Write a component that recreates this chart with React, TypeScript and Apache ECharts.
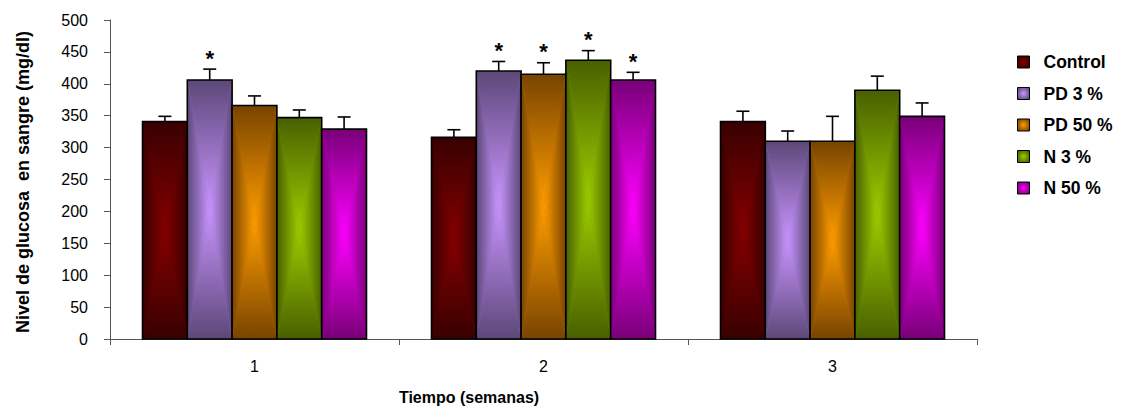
import React, { useEffect, useRef } from "react";
import * as echarts from "echarts";

// Weeks on the x axis
const categories = ["1", "2", "3"];

// Mean blood glucose (mg/dl) per group and week, with upper error (SE)
const control = [341, 316, 341];
const controlErr = [8, 12, 16];
const pd3 = [406, 420, 310];
const pd3Err = [17, 15, 16];
const pd50 = [366, 415, 310];
const pd50Err = [15, 18, 39];
const n3 = [347, 437, 390];
const n3Err = [12, 15, 22];
const n50 = [329, 406, 349];
const n50Err = [19, 12, 21];

// 1 = significant difference (marked with an asterisk)
const controlSig = [0, 0, 0];
const pd3Sig = [1, 1, 0];
const pd50Sig = [0, 1, 0];
const n3Sig = [0, 1, 0];
const n50Sig = [0, 1, 0];

const yTicks = { min: 0, max: 500, interval: 50 };

const groups = [
  { name: "Control", values: control, errors: controlErr, sig: controlSig },
  { name: "PD 3 %", values: pd3, errors: pd3Err, sig: pd3Sig },
  { name: "PD 50 %", values: pd50, errors: pd50Err, sig: pd50Sig },
  { name: "N 3 %", values: n3, errors: n3Err, sig: n3Sig },
  { name: "N 50 %", values: n50, errors: n50Err, sig: n50Sig },
];

// Edge (dark) and centre (light) colours of the "from centre" fill
const palette = [
  { dark: "#380000", light: "#850000" },
  { dark: "#5c4878", light: "#c994ff" },
  { dark: "#784400", light: "#ff9c00" },
  { dark: "#486000", light: "#9ccc00" },
  { dark: "#780078", light: "#ff00ff" },
];

const FONT = "Liberation Sans";
const CATEGORY_GAP = 0.225;

function mix(a: string, b: string) {
  const pa = [1, 3, 5].map((i) => parseInt(a.slice(i, i + 2), 16));
  const pb = [1, 3, 5].map((i) => parseInt(b.slice(i, i + 2), 16));
  return (
    "#" +
    pa
      .map((v, i) => Math.round((v + pb[i]) / 2).toString(16).padStart(2, "0"))
      .join("")
  );
}

function renderBar(params: any, api: any) {
  const idx = params.seriesIndex;
  const n = groups.length;
  const cat = api.value(0);
  const v = api.value(1);
  const e = api.value(2);
  const sig = api.value(3);
  const base = api.coord([cat, 0]);
  const top = api.coord([cat, v]);
  const errTop = api.coord([cat, v + e]);
  const band = api.size([1, 0])[0];
  const inner = band * (1 - CATEGORY_GAP);
  const bw = inner / n;
  const x0 = base[0] - inner / 2 + idx * bw;
  const x1 = x0 + bw;
  const yb = base[1];
  const yt = top[1];
  const cx = (x0 + x1) / 2;
  const cy = (yt + yb) / 2;
  const { dark, light } = palette[idx];
  const grad = (x: number, y: number, x2: number, y2: number) => ({
    type: "linear",
    x,
    y,
    x2,
    y2,
    colorStops: [
      { offset: 0, color: dark },
      { offset: 1, color: light },
    ],
  });
  const children: any[] = [
    {
      type: "line",
      shape: { x1: cx, y1: yt, x2: cx, y2: errTop[1] },
      style: { stroke: "#000", lineWidth: 1.6 },
    },
    {
      type: "line",
      shape: { x1: cx - 6.5, y1: errTop[1], x2: cx + 6.5, y2: errTop[1] },
      style: { stroke: "#000", lineWidth: 1.6 },
    },
    {
      type: "rect",
      shape: { x: x0, y: yt, width: bw, height: yb - yt },
      style: { fill: mix(dark, light) },
    },
    {
      type: "polygon",
      shape: { points: [[x0, yt], [x1, yt], [cx, cy]] },
      style: { fill: grad(0, 0, 0, 1) },
    },
    {
      type: "polygon",
      shape: { points: [[x0, yb], [x1, yb], [cx, cy]] },
      style: { fill: grad(0, 1, 0, 0) },
    },
    {
      type: "polygon",
      shape: { points: [[x0, yt], [x0, yb], [cx, cy]] },
      style: { fill: grad(0, 0, 1, 0) },
    },
    {
      type: "polygon",
      shape: { points: [[x1, yt], [x1, yb], [cx, cy]] },
      style: { fill: grad(1, 0, 0, 0) },
    },
    {
      type: "rect",
      shape: { x: x0, y: yt, width: bw, height: yb - yt },
      style: { fill: "none", stroke: "#000", lineWidth: 1.6 },
    },
  ];
  if (sig) {
    children.push({
      type: "text",
      x: cx,
      y: errTop[1] - 11,
      style: {
        text: "*",
        fill: "#000",
        font: `bold 22px ${FONT}`,
        align: "center",
        verticalAlign: "middle",
      },
    });
  }
  return { type: "group", children };
}

export default function App() {
  const ref = useRef<HTMLDivElement>(null);

  useEffect(() => {
    if (!ref.current) return;
    const chart = echarts.init(ref.current, undefined, { renderer: "svg" });

    const series = groups.map((g, i) => ({
      type: "custom",
      name: g.name,
      renderItem: renderBar,
      itemStyle: { color: palette[i].light },
      encode: { x: 0, y: 1 },
      data: g.values.map((v, c) => [c, v, g.errors[c], g.sig[c]]),
    }));

    chart.setOption({
      animation: false,
      backgroundColor: "#fff",
      grid: { left: 110, right: 144, top: 20, bottom: 71 },
      legend: {
        orient: "vertical",
        left: 1012,
        top: 48,
        itemWidth: 12,
        itemHeight: 12,
        itemGap: 13.5,
        icon: "rect",
        textStyle: {
          fontFamily: FONT,
          fontWeight: "bold",
          fontSize: 17.5,
          lineHeight: 17,
          color: "#000",
          padding: [0, 0, 0, 9],
        },
        data: groups.map((g, i) => ({
          name: g.name,
          itemStyle: {
            color: {
              type: "radial",
              x: 0.5,
              y: 0.5,
              r: 0.6,
              colorStops: [
                { offset: 0, color: palette[i].light },
                { offset: 1, color: palette[i].dark },
              ],
            },
            borderColor: "#000",
            borderWidth: 1,
          },
        })),
      },
      xAxis: {
        type: "category",
        data: categories,
        boundaryGap: true,
        axisLine: { show: true, lineStyle: { color: "#555", width: 1 } },
        axisTick: { show: true, length: 6, lineStyle: { color: "#555" } },
        axisLabel: {
          fontFamily: FONT,
          fontSize: 16,
          color: "#000",
          margin: 19,
        },
        splitLine: { show: false },
      },
      yAxis: {
        type: "value",
        min: yTicks.min,
        max: yTicks.max,
        interval: yTicks.interval,
        axisLine: { show: true, lineStyle: { color: "#555", width: 1 } },
        axisTick: { show: true, length: 6, lineStyle: { color: "#555" } },
        axisLabel: {
          fontFamily: FONT,
          fontSize: 16,
          color: "#000",
          margin: 22,
        },
        splitLine: { show: false },
      },
      graphic: [
        {
          type: "text",
          x: 23,
          y: 182,
          rotation: Math.PI / 2,
          style: {
            text: "Nivel de glucosa  en sangre (mg/dl)",
            font: `bold 18px ${FONT}`,
            fill: "#000",
            align: "center",
            verticalAlign: "middle",
          },
        },
        {
          type: "text",
          x: 469,
          y: 397,
          style: {
            text: "Tiempo (semanas)",
            font: `bold 16px ${FONT}`,
            fill: "#000",
            align: "center",
            verticalAlign: "middle",
          },
        },
      ],
      series,
    });

    return () => chart.dispose();
  }, []);

  return (
    <div
      ref={ref}
      style={{ position: "fixed", left: 0, top: 0, width: 1121, height: 410 }}
    />
  );
}
